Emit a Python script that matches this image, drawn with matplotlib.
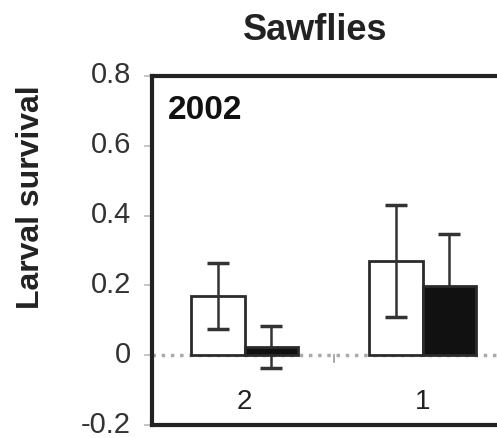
import matplotlib.pyplot as plt
import matplotlib.transforms as mtransforms
import numpy as np

plt.rcParams['font.family'] = ['Liberation Sans', 'DejaVu Sans']

# datos
categorias = ['2', '1']
blancas = [0.17, 0.27]
blancas_err = [0.095, 0.16]
negras = [0.023, 0.197]
negras_err = [0.06, 0.15]
yticks = [-0.2, 0, 0.2, 0.4, 0.6, 0.8]
ytick_labels = ['-0.2', '0', '0.2', '0.4', '0.6', '0.8']

fig = plt.figure(figsize=(4.97, 4.38), dpi=100)
ax = fig.add_axes([0.306, 0.0297, 0.7235, 0.797])

x = np.arange(len(categorias))
ancho = 0.3
gris = '#2b2b2b'

ax.bar(x - ancho / 2, blancas, ancho, color='white', edgecolor=gris, linewidth=2, zorder=2)
ax.bar(x + ancho / 2, negras, ancho, color='#111111', edgecolor=gris, linewidth=2, zorder=2)
# barras de error: las blancas se ven a traves de la barra, las negras quedan detras
ax.errorbar(x - ancho / 2, blancas, yerr=blancas_err, fmt='none', ecolor='#333333',
            elinewidth=1.8, capsize=8, capthick=2.5, zorder=3)
ax.errorbar(x + ancho / 2, negras, yerr=negras_err, fmt='none', ecolor='#333333',
            elinewidth=1.8, capsize=8, capthick=2.5, zorder=1.5)

ax.axhline(0, color='#aaaaaa', linestyle=':', linewidth=2.5, zorder=1)
ax.axvline(0.5, ymin=0.18, ymax=0.2, color='#999999', linewidth=1.2)

for xi, etiqueta in zip(x, categorias):
    ax.text(xi, -0.135, etiqueta, ha='center', va='center', fontsize=20, color='#222222')

ax.set_xlim(-0.52, 1.5)
ax.set_ylim(-0.2, 0.8)
ax.set_xticks([])
ax.set_yticks(yticks)
ax.set_yticklabels(ytick_labels, fontsize=21, color='#333333')
ax.tick_params(axis='y', length=6, width=1.2, color='#bbbbbb', pad=9)

# subir un poco las etiquetas para que -0.2 no quede cortada
desplazamiento = mtransforms.ScaledTranslation(0, 2.5 / 72, fig.dpi_scale_trans)
for lab in ax.get_yticklabels():
    lab.set_transform(lab.get_transform() + desplazamiento)

for lado in ['left', 'top', 'bottom', 'right']:
    ax.spines[lado].set_linewidth(3)
    ax.spines[lado].set_color('#222222')

ax.text(0.045, 0.9, '2002', transform=ax.transAxes, fontsize=24, fontweight='bold',
        ha='left', va='center', color='#111111')

fig.text(0.634, 0.93, 'Sawflies', fontsize=26, fontweight='bold', ha='center', va='center',
         color='#222222')
fig.text(0.062, 0.55, 'Larval survival', fontsize=23, fontweight='bold', rotation=90,
         ha='center', va='center', color='#222222')

fig.savefig('out.png', dpi=100)
